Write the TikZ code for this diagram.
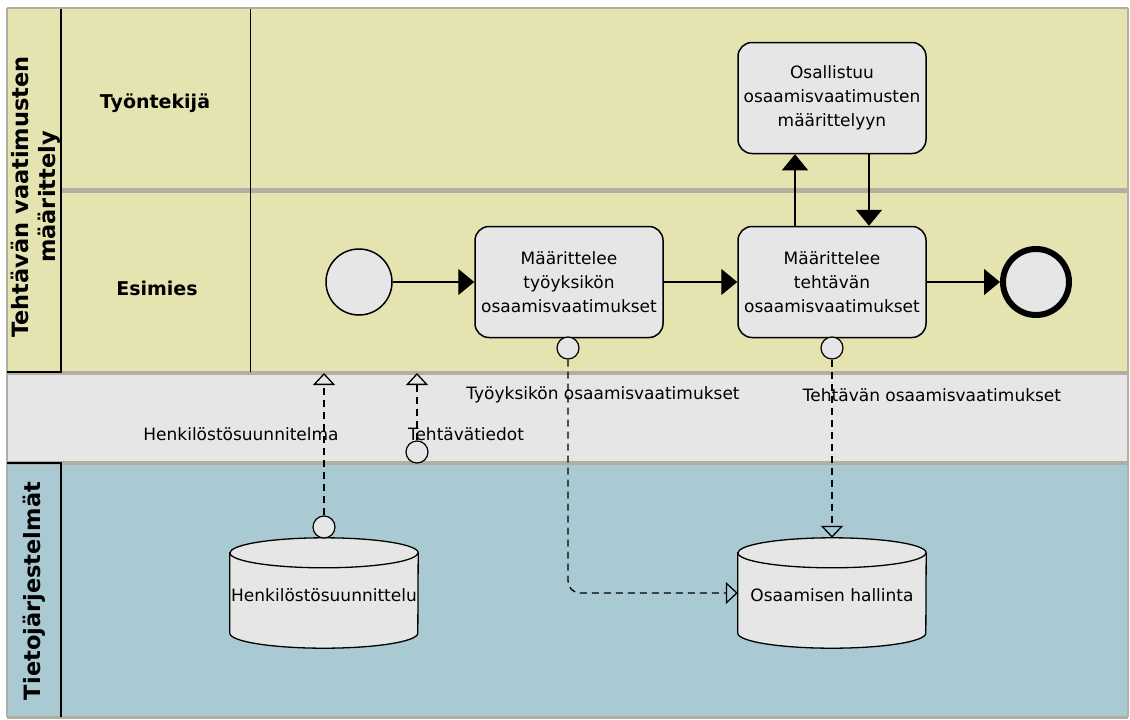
\documentclass[tikz,border=0pt]{standalone}
\usepackage{fontspec}
\setmainfont{DejaVu Sans}
\usetikzlibrary{arrows.meta}

\definecolor{laneyellow}{HTML}{E5E3B0}
\definecolor{bandgray}{HTML}{E6E6E6}
\definecolor{sysblue}{HTML}{A9CAD2}
\definecolor{boxgray}{HTML}{E6E6E6}
\definecolor{rimgray}{HTML}{B2AFA2}

\begin{document}
\begin{tikzpicture}[x=1pt, y=-1pt,
    task/.style={draw, line width=1.5pt, rounded corners=14pt, fill=boxgray,
        minimum width=188pt, minimum height=111pt, inner sep=0pt, align=center,
        font=\fontsize{17}{24}\selectfont},
    storebox/.style={minimum width=188pt, minimum height=110pt, inner sep=0pt},
    storeline/.style={draw, line width=1.3pt, fill=boxgray},
    storetext/.style={font=\fontsize{17}{20}\selectfont, inner sep=0pt},
    port/.style={circle, draw, line width=1.2pt, fill=boxgray, minimum size=22pt, inner sep=0pt},
    startev/.style={circle, draw, line width=1.5pt, fill=boxgray, minimum size=66pt},
    endev/.style={circle, draw, line width=6pt, fill=boxgray, minimum size=66pt},
    flow/.style={line width=1.3pt, -{Triangle[length=16pt, width=26pt]}},
    assoc/.style={line width=1.3pt, dash pattern=on 7pt off 5pt,
        -{Triangle[open, length=12pt, width=22pt]}},
    lanename/.style={font=\fontsize{19}{22}\selectfont\bfseries},
    poolname/.style={font=\fontsize{22.5}{27}\selectfont\bfseries, align=center, rotate=90},
    datalabel/.style={font=\fontsize{17}{20}\selectfont, inner sep=0pt}]

    \useasboundingbox (0,0) rectangle (1130,720);

    % pools and lanes
    \fill[laneyellow] (7,8) rectangle (1128,372);
    \fill[bandgray] (7,372) rectangle (1128,463);
    \fill[sysblue] (7,463) rectangle (1128,717);
    \draw[rimgray, line width=2pt] (7,8) -- (1128,8);
    \draw[rimgray, line width=1.5pt] (7,8) -- (7,717);
    \draw[rimgray, line width=1.5pt] (1128,8) -- (1128,717);
    \draw[rimgray, line width=4pt] (7,373) -- (1128,373);
    \draw[rimgray, line width=4pt] (7,463) -- (1128,463);
    \draw[rimgray, line width=3pt] (7,717) -- (1128,717);
    \draw[rimgray, line width=5pt] (61,190) -- (1128,190);
    \draw[line width=1.5pt] (61,9) -- (61,372) -- (7,372);
    \draw[line width=1pt] (250,9) -- (250,372);
    \draw[line width=1.5pt] (7,463) -- (61,463) -- (61,717);

    \node[poolname] (pool1) at (36,197) {Tehtävän vaatimusten\\määrittely};
    \node[poolname] (pool2) at (34,591) {Tietojärjestelmät};
    \node[lanename] (lane1) at (155,103) {Työntekijä};
    \node[lanename] (lane2) at (157,288) {Esimies};

    % process
    \node[startev] (start) at (359,282) {};
    \node[task] (t1) at (569,282) {Määrittelee\\työyksikön\\osaamisvaatimukset};
    \node[task] (t2) at (832,282) {Määrittelee\\tehtävän\\osaamisvaatimukset};
    \node[task] (t3) at (832,98) {Osallistuu\\osaamisvaatimusten\\määrittelyyn};
    \node[endev] (end) at (1036,282) {};

    \draw[flow] (start) -- (t1);
    \draw[flow] (t1) -- (t2);
    \draw[flow] (t2) -- (end);
    \draw[flow] ([xshift=-37pt]t2.north) -- ([xshift=-37pt]t3.south);
    \draw[flow] ([xshift=37pt]t3.south) -- ([xshift=37pt]t2.north);

    % data stores
    \node[storebox] (hs) at (324,593) {};
    \node[storebox] (oh) at (832,593) {};
    \foreach \s in {hs,oh} {
        \path[storeline] ([yshift=-15pt]\s.north west) -- ([yshift=15pt]\s.south west)
            arc[start angle=180, end angle=360, x radius=94pt, y radius=15pt]
            -- ([yshift=-15pt]\s.north east)
            arc[start angle=0, end angle=180, x radius=94pt, y radius=15pt] -- cycle;
        \draw[line width=1.3pt] ([yshift=-15pt]\s.north west)
            arc[start angle=180, end angle=360, x radius=94pt, y radius=15pt];
    }
    \node[storetext] (hstext) at (324,595) {Henkilöstösuunnittelu};
    \node[storetext] (ohtext) at (832,595) {Osaamisen hallinta};

    \node[port] (p1) at (568,348) {};
    \node[port] (p2) at (832,348) {};
    \node[port] (p3) at (324,527) {};
    \node[port] (p4) at (417,452) {};
    \coordinate (a3) at (324,373);
    \coordinate (a4) at (417,373);

    \node[datalabel] (d1) at (241,434) {Henkilöstösuunnitelma};
    \node[datalabel] (d2) at (466,434) {Tehtävätiedot};
    \node[datalabel] (d3) at (603,395) {Työyksikön osaamisvaatimukset};
    \node[datalabel] (d4) at (932,395) {Tehtävän osaamisvaatimukset};

    \draw[assoc] (p3) -- (a3);
    \draw[assoc] (p4) -- (a4);
    \draw[assoc, rounded corners=12pt] (p1) |- (oh.west);
    \draw[assoc] (p2) -- (oh.north);

\end{tikzpicture}
\end{document}
